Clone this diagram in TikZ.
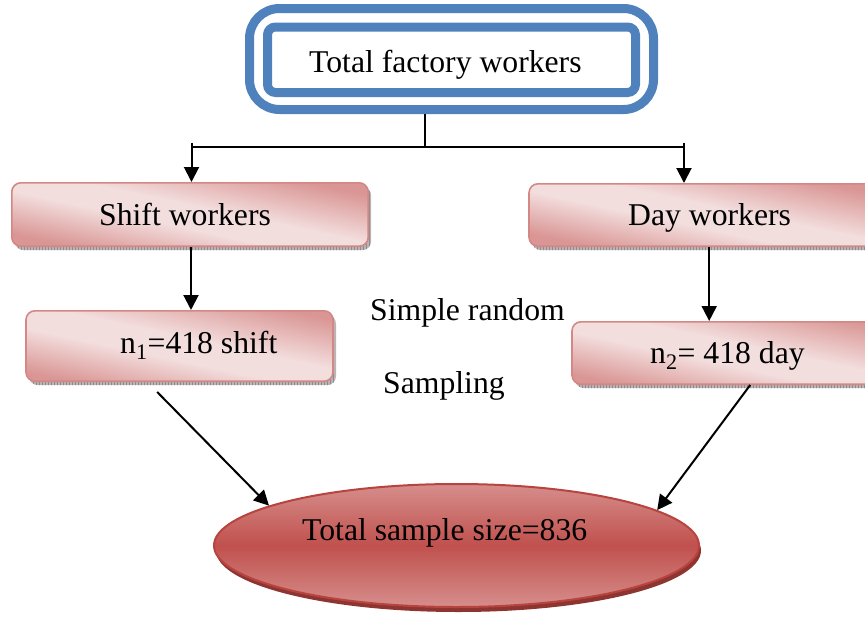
\documentclass[tikz,border=0pt]{standalone}
\usepackage{fontspec}
\setmainfont{Liberation Serif}
\usetikzlibrary{arrows.meta,shadows,patterns,shapes.geometric,calc}

\definecolor{frameblue}{HTML}{4F81BD}
\definecolor{roseD}{HTML}{D99694}
\definecolor{roseL}{HTML}{F3DEDE}
\definecolor{roseEdge}{HTML}{D48886}
\definecolor{redmid}{HTML}{C0504D}
\definecolor{redlight}{HTML}{D68E8C}
\definecolor{rededge}{HTML}{B8443F}
\definecolor{redshadow}{HTML}{8E3431}
\definecolor{shadowgray}{HTML}{BDB3B5}

% rose gradient, light across the middle, dark towards both ends
% (pgf maps the 25bp..75bp part of a shading onto the shaded path)
\pgfdeclareverticalshading{roseslant}{100bp}{color(0bp)=(roseD); color(37.5bp)=(roseD); color(47bp)=(roseL); color(52bp)=(roseL); color(62.5bp)=(roseD); color(100bp)=(roseD)}

\begin{document}
\begin{tikzpicture}[x=1pt,y=-1pt,
  font=\fontsize{31.7}{38}\selectfont,
  pinkbox/.style={rectangle, rounded corners=9pt, draw=roseEdge, line width=1.6pt, inner sep=0pt,
    path picture={
      \shade[shading=roseslant,
        transform canvas={rotate around={-12:(path picture bounding box.center)}}]
        ($(path picture bounding box.south west)+(-40pt,-80pt)$) rectangle
        ($(path picture bounding box.north east)+(40pt,80pt)$);},
    general shadow={shadow xshift=3pt, shadow yshift=-4pt, fill=shadowgray},
    general shadow={shadow xshift=3pt, shadow yshift=-4pt, pattern=vertical lines, pattern color=black!45}},
  bluebox/.style={rectangle, draw=frameblue, line width=9pt, inner sep=0pt},
  txt/.style={anchor=base west, inner sep=0pt},
  conn/.style={line width=2pt},
  arr/.style={conn, -{Triangle[length=15pt,width=15pt]}}]

\clip (0,0) rectangle (865,621);

% top double frame
\node[bluebox, rounded corners=30pt, minimum width=404pt, minimum height=101pt] (outer) at (451.5,59) {};
\node[bluebox, rounded corners=8pt, minimum width=368pt, minimum height=65.5pt] (inner) at (451.5,59.75) {};
\node[txt] (ttot) at (309,72) {Total factory workers};

% the two groups
\node[pinkbox, minimum width=356.4pt, minimum height=63.4pt] (shift) at (190,214.5) {};
\node[pinkbox, minimum width=360pt, minimum height=62.4pt] (day) at (709,215) {};
\node[txt] (tshift) at (99,225) {Shift workers};
\node[txt] (tday) at (628,225) {Day workers};

% samples
\node[pinkbox, minimum width=307pt, minimum height=70.4pt] (n1) at (179.5,346) {};
\node[pinkbox, minimum width=332pt, minimum height=62.4pt] (n2) at (738,353) {};
\node[txt] (tn1) at (120,353) {n\textsubscript{1}=418 shift};
\node[txt] (tn2) at (650,363) {n\textsubscript{2}= 418 day};

\node[txt] (tsimple) at (370,320) {Simple random};
\node[txt] (tsamp) at (383,393) {Sampling};

% total
\node[ellipse, minimum width=485pt, minimum height=123pt, inner sep=0pt,
  draw=rededge, line width=2pt,
  top color=redlight, bottom color=redlight, middle color=redmid,
  general shadow={shadow xshift=2pt, shadow yshift=-5pt, fill=redshadow}] (sum) at (456.5,545.5) {};
\node[txt] (tsum) at (302,540) {Total sample size=836};

% connectors
\coordinate (split) at (425,146.5);
\coordinate (lft) at (191.5,142.5);
\coordinate (rgt) at (684,142.5);
\draw[conn] (outer.south -| split) -- (split);
\draw[conn] (lft |- split) -- (rgt |- split);
\draw[arr] (lft) -- (lft |- shift.north);
\draw[arr] (rgt) -- (rgt |- day.north);
\draw[arr] ([xshift=1pt]shift.south) coordinate (sd) -- (sd |- n1.north);
\draw[arr] ([xshift=181pt]day.south west) coordinate (dn) -- (dn |- n2.north);
\draw[arr] ([shift={(132pt,-10pt)}]n1.south west) -- (sum.168);
\draw[arr] ([shift={(179pt,0pt)}]n2.south west) -- (sum.10);
\end{tikzpicture}
\end{document}
